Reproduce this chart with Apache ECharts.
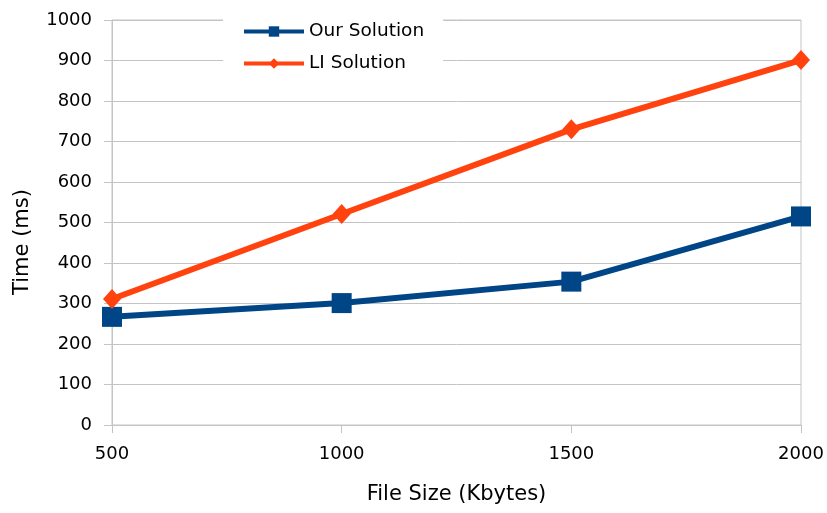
<!DOCTYPE html>
<html>
<head>
<meta charset="utf-8">
<script src="https://cdn.jsdelivr.net/npm/echarts@6/dist/echarts.min.js"></script>
<style>html,body{margin:0;padding:0;background:#fff}#c{width:827px;height:513px}</style>
</head>
<body>
<div id="c"></div>
<script>
var fileSizes = [500, 1000, 1500, 2000];
var ourSolution = [267, 301, 354, 515];
var liSolution = [311, 521, 730, 901];
var yTicks = {min: 0, max: 1000, step: 100};
var xTicks = {min: 500, max: 2000, step: 500};
var seriesNames = ['Our Solution', 'LI Solution'];
var xName = 'File Size (Kbytes)';
var yName = 'Time (ms)';

var FONT = 'DejaVu Sans';
var chart = echarts.init(document.getElementById('c'), null, {renderer: 'canvas'});
function pairs(xs, ys) { return xs.map(function (x, i) { return [x, ys[i]]; }); }
function plain(v) { return String(v); }
var grey = '#c4c4c4';
var ink = '#000';
chart.setOption({
  animation: false,
  backgroundColor: '#fff',
  textStyle: {fontFamily: FONT},
  grid: {left: 112, right: 26, top: 20, bottom: 88, show: true, borderColor: grey, borderWidth: 1},
  legend: {
    orient: 'vertical', left: 223, top: 13,
    padding: [9, 19, 12, 19],
    backgroundColor: '#fff',
    itemWidth: 60, itemHeight: 13, itemGap: 13,
    lineStyle: {width: 4},
    textStyle: {fontFamily: FONT, fontSize: 18.5, color: ink},
    data: seriesNames
  },
  xAxis: {
    type: 'value', min: xTicks.min, max: xTicks.max, interval: xTicks.step,
    axisLine: {show: true, lineStyle: {color: grey}},
    axisTick: {show: true, length: 8, lineStyle: {color: grey}},
    splitLine: {show: false},
    axisLabel: {fontFamily: FONT, fontSize: 18, color: ink, margin: 20, formatter: plain},
    name: xName, nameLocation: 'middle', nameGap: 59,
    nameTextStyle: {fontFamily: FONT, fontSize: 21, color: ink}
  },
  yAxis: {
    type: 'value', min: yTicks.min, max: yTicks.max, interval: yTicks.step,
    axisLine: {show: true, lineStyle: {color: grey}},
    axisTick: {show: true, length: 8, lineStyle: {color: grey}},
    splitLine: {show: true, lineStyle: {color: grey}},
    axisLabel: {fontFamily: FONT, fontSize: 18, color: ink, margin: 20, formatter: plain}
  },
  graphic: [{
    type: 'text', x: 23, y: 242, rotation: Math.PI / 2,
    style: {text: yName, fontFamily: FONT, fontSize: 21, fill: ink, textAlign: 'center', textVerticalAlign: 'middle'}
  }],
  series: [
    {
      name: seriesNames[0], type: 'line', data: pairs(fileSizes, ourSolution),
      symbol: 'rect', symbolSize: 20,
      lineStyle: {width: 6, color: '#004586'},
      itemStyle: {color: '#004586'}, z: 3
    },
    {
      name: seriesNames[1], type: 'line', data: pairs(fileSizes, liSolution),
      symbol: 'diamond', symbolSize: [18, 20],
      lineStyle: {width: 6, color: '#ff420e'},
      itemStyle: {color: '#ff420e'}, z: 3
    }
  ]
});
</script>
</body>
</html>
